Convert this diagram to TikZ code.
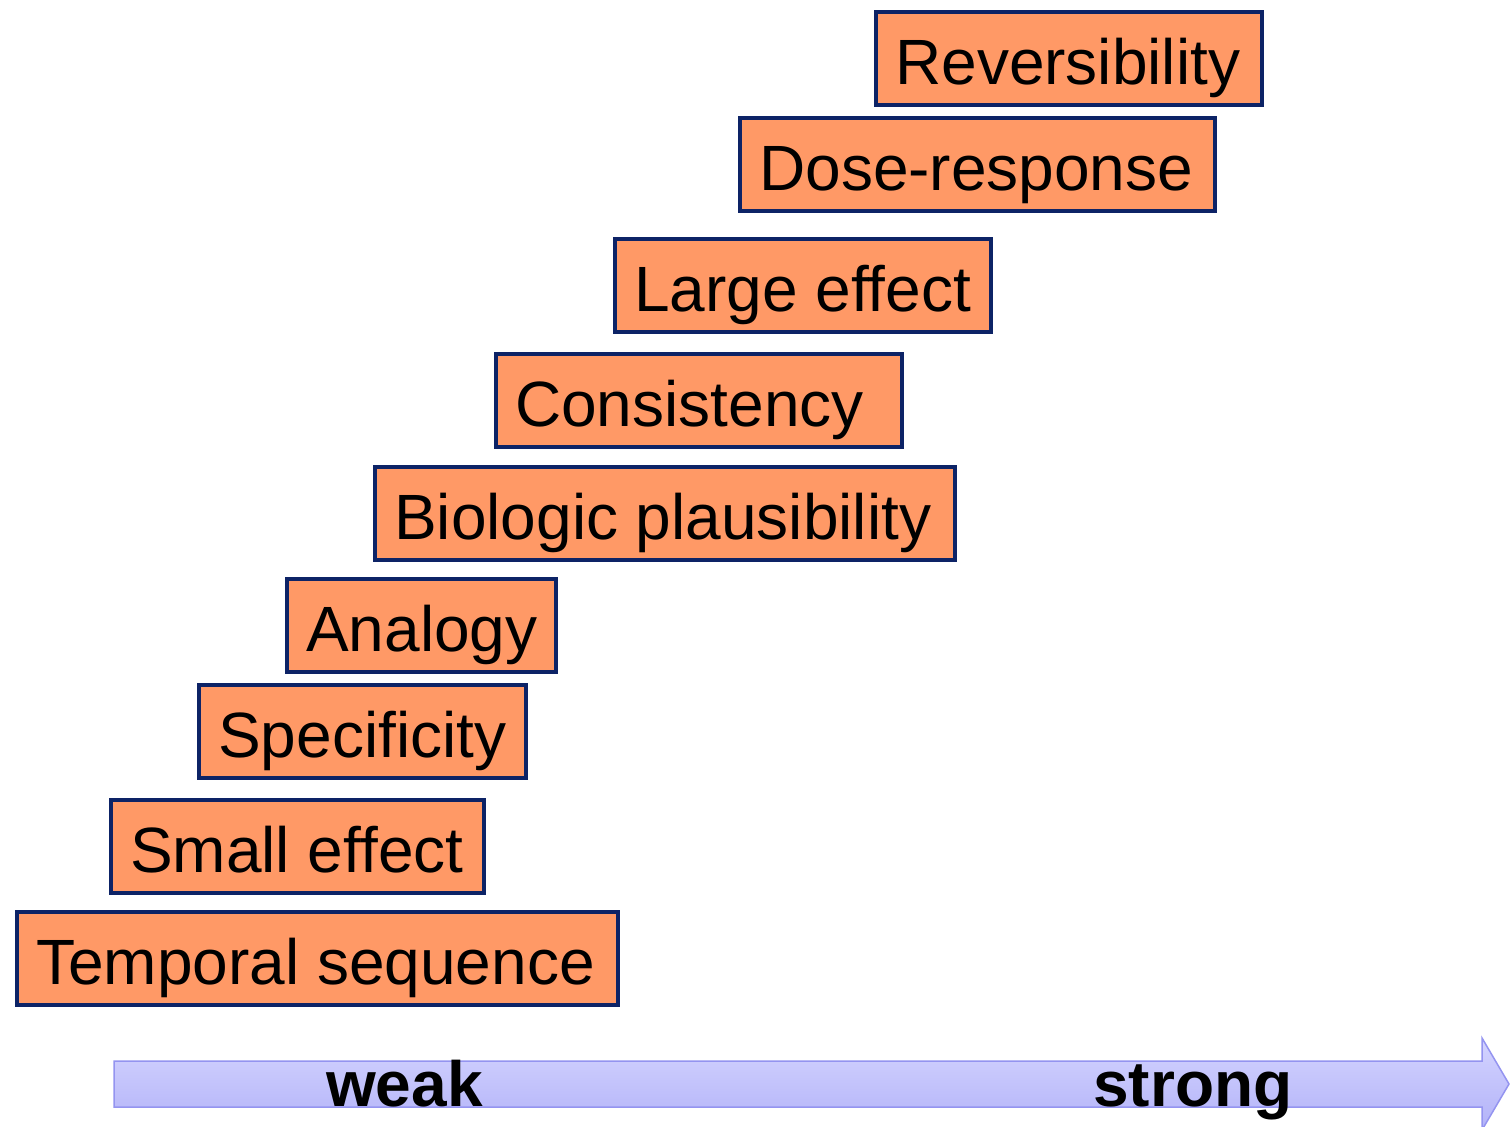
\documentclass[tikz,border=0pt]{standalone}
\usepackage{fontspec}
\setmainfont{Liberation Sans}
\definecolor{boxfill}{HTML}{FF9966}
\definecolor{boxline}{HTML}{0D2366}
\definecolor{arrtop}{HTML}{D4D4FF}
\definecolor{arrbot}{HTML}{B2B2F8}
\definecolor{arrline}{HTML}{9494F0}
\begin{document}
\begin{tikzpicture}[x=1pt,y=-1pt,
  box/.style={draw=boxline, fill=boxfill, line width=4pt, rectangle, inner sep=0pt, anchor=north west},
  lbl/.style={anchor=base west, inner sep=0pt, font=\fontsize{64}{70}\selectfont},
  axislbl/.style={anchor=base west, inner sep=0pt, font=\fontsize{64}{70}\selectfont\bfseries}]
\useasboundingbox (0,0) rectangle (1510,1127);
% arrow
\path[draw=arrline, line width=1.5pt, top color=arrtop, bottom color=arrbot]
  (114,1061) -- (1482,1061) -- (1482,1038) -- (1509,1084) -- (1482,1130) -- (1482,1107) -- (114,1107) -- cycle;
\node[axislbl] (weak) at (326,1106) {weak};
\node[axislbl] (strong) at (1093,1106) {strong};
% boxes
\foreach \n/\l/\t/\r/\b/\txt in {
  b1/874/10/1264/107/Reversibility,
  b2/738/116/1217/213/Dose-response,
  b3/613/237/993/334/Large effect,
  b4/494/352/904/449/Consistency,
  b5/373/465/957/562/Biologic plausibility,
  b6/285/577/558/674/Analogy,
  b7/197/683/528/780/Specificity,
  b8/109/798/486/895/Small effect,
  b9/15/910/620/1007/Temporal sequence}{
  \node[box, minimum width={\r-\l-4}, minimum height={\b-\t-4}] (\n) at (\l,\t) {};
  \node[lbl] (\n t) at (\l+21,\b-23) {\txt};
}
\end{tikzpicture}
\end{document}
